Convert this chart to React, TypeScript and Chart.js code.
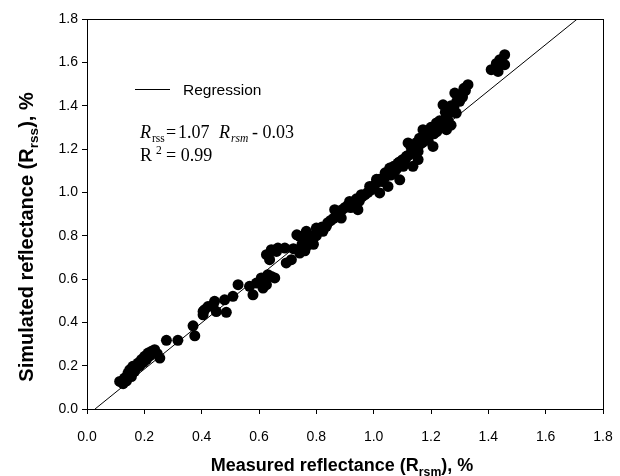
import React, { useEffect, useRef } from 'react';
import { Chart, registerables } from 'chart.js';
Chart.register(...registerables);

// Measured reflectance (Rrsm), %
const measured: number[] = [
  0.114, 0.126, 0.131, 0.138, 0.143, 0.149, 0.155, 0.16, 0.166, 0.172, 0.178, 0.184, 0.19, 0.196, 0.201, 0.207, 0.213, 0.219, 0.225, 0.236, 0.254, 0.245,
  0.277, 0.317, 0.37, 0.376, 0.405, 0.41, 0.405, 0.422, 0.44, 0.445, 0.451, 0.48, 0.486, 0.509, 0.527, 0.567, 0.579, 0.591, 0.608, 0.614, 0.626, 0.631, 0.643, 0.655,
  0.626, 0.631, 0.637, 0.643, 0.661, 0.666, 0.69, 0.695, 0.713, 0.732, 0.742, 0.742, 0.765, 0.765, 0.788, 0.8, 0.812, 0.823, 0.835,
  0.72, 0.75, 0.77, 0.78, 0.8, 0.82, 0.76, 0.79,
  0.864, 0.887, 0.85, 0.87, 0.9, 0.916, 0.93, 0.945, 0.957, 0.97, 0.98, 0.986, 1.0, 1.009, 1.021, 1.03, 1.04, 1.05, 1.056, 1.06, 1.068, 1.075, 1.085, 1.091,
  1.1, 1.103, 1.114, 1.12, 1.13, 1.137, 1.14, 1.155, 1.155, 1.16, 1.172, 1.18, 1.19, 1.2, 1.207, 1.215, 1.219, 1.23, 1.242, 1.25, 1.254, 1.26, 1.265, 1.27,
  1.283, 1.288, 1.29, 1.3, 1.31, 1.32, 1.329, 1.315,
  0.84, 0.86, 0.88, 0.89, 0.91, 0.92, 0.94, 0.95, 0.96, 0.99, 1.01, 1.02, 1.04, 1.06, 1.07, 1.08, 1.09, 1.1, 1.11, 1.12, 1.13, 1.14, 1.15, 1.16, 1.17, 1.18,
  1.19, 1.2, 1.21, 1.22, 1.23, 1.24, 1.25, 1.26, 1.27, 1.28, 1.3,
  1.41, 1.434, 1.44, 1.457, 1.457, 1.428,
];

// Simulated reflectance (Rrss), %
const simulated: number[] = [
  0.127, 0.117, 0.143, 0.13, 0.166, 0.181, 0.15, 0.197, 0.174, 0.19, 0.212, 0.2, 0.228, 0.215, 0.243, 0.228, 0.258, 0.245, 0.266, 0.274, 0.235, 0.255,
  0.317, 0.317, 0.384, 0.338, 0.435, 0.458, 0.45, 0.473, 0.481, 0.497, 0.45, 0.504, 0.446, 0.52, 0.574, 0.566, 0.527, 0.581, 0.605, 0.558, 0.574, 0.62, 0.612, 0.605,
  0.712, 0.712, 0.689, 0.735, 0.727, 0.743, 0.743, 0.674, 0.689, 0.804, 0.72, 0.797, 0.75, 0.82, 0.781, 0.835, 0.827, 0.82, 0.843,
  0.74, 0.76, 0.78, 0.8, 0.8, 0.84, 0.73, 0.76,
  0.92, 0.881, 0.87, 0.89, 0.93, 0.958, 0.95, 0.92, 0.989, 0.99, 1.0, 1.027, 1.03, 1.043, 0.997, 1.05, 1.07, 1.027, 1.112, 1.08, 1.089, 1.1, 1.135, 1.058,
  1.13, 1.12, 1.166, 1.228, 1.18, 1.12, 1.2, 1.189, 1.151, 1.22, 1.289, 1.25, 1.24, 1.27, 1.212, 1.29, 1.32, 1.3, 1.404, 1.34, 1.289, 1.36, 1.381, 1.31,
  1.458, 1.366, 1.42, 1.42, 1.44, 1.47, 1.497, 1.48,
  0.86, 0.88, 0.9, 0.92, 0.94, 0.93, 0.97, 0.96, 0.98, 1.01, 1.06, 1.06, 1.09, 1.1, 1.12, 1.11, 1.14, 1.15, 1.15, 1.17, 1.21, 1.18, 1.23, 1.25, 1.23, 1.28,
  1.26, 1.3, 1.27, 1.28, 1.33, 1.31, 1.37, 1.33, 1.4, 1.39, 1.45,
  1.566, 1.558, 1.612, 1.635, 1.589, 1.595,
];

const regSlope = 1.07;
const regIntercept = -0.03;
const rSquared = 0.99;
const axisMin = 0;
const axisMax = 1.8;
const tickStep = 0.2;
const legendLabel = 'Regression';

const SANS = '"Liberation Sans", Arial, sans-serif';
const SERIF = '"Liberation Serif", "Times New Roman", serif';

const textPlugin = {
  id: 'customText',
  afterDraw(chart: any) {
    const ctx = chart.ctx as CanvasRenderingContext2D;
    const a = chart.chartArea;
    ctx.save();
    // full frame
    ctx.strokeStyle = '#000';
    ctx.lineWidth = 1;
    ctx.strokeRect(Math.round(a.left) + 0.5, Math.round(a.top) + 0.5, Math.round(a.right - a.left), Math.round(a.bottom - a.top));

    // legend
    ctx.beginPath();
    ctx.moveTo(135, 89.5);
    ctx.lineTo(170, 89.5);
    ctx.stroke();
    ctx.fillStyle = '#000';
    ctx.textBaseline = 'alphabetic';
    ctx.textAlign = 'left';
    ctx.font = `15.5px ${SANS}`;
    ctx.fillText(legendLabel, 183, 95);

    // equation line 1
    const b1 = 138;
    ctx.font = `italic 18px ${SERIF}`;
    ctx.fillText('R', 140, b1);
    ctx.font = `11.5px ${SERIF}`;
    ctx.fillText('rss', 152, b1 + 4);
    ctx.font = `18px ${SERIF}`;
    ctx.fillText('=', 166, b1);
    ctx.fillText(regSlope.toFixed(2), 178, b1);
    ctx.font = `italic 18px ${SERIF}`;
    ctx.fillText('R', 219, b1);
    ctx.font = `italic 11.5px ${SERIF}`;
    ctx.fillText('rsm', 231, b1 + 4);
    ctx.font = `18px ${SERIF}`;
    ctx.fillText('- ' + Math.abs(regIntercept).toFixed(2), 252, b1);

    // equation line 2
    const b2 = 161;
    ctx.font = `18px ${SERIF}`;
    ctx.fillText('R', 140, b2);
    ctx.font = `11.5px ${SERIF}`;
    ctx.fillText('2', 156, b2 - 7);
    ctx.font = `18px ${SERIF}`;
    ctx.fillText('= ' + rSquared.toFixed(2), 166, b2);

    const measure = (size: number, main1: string, sub: string, main2: string) => {
      ctx.font = `bold ${size}px ${SANS}`;
      const w1 = ctx.measureText(main1).width;
      const w3 = ctx.measureText(main2).width;
      ctx.font = `bold ${size * 0.68}px ${SANS}`;
      const w2 = ctx.measureText(sub).width;
      return { w1, w2, w3, total: w1 + w2 + w3 };
    };
    const drawTitle = (size: number, main1: string, sub: string, main2: string, cx: number, y: number) => {
      const m = measure(size, main1, sub, main2);
      let x = cx - m.total / 2;
      ctx.font = `bold ${size}px ${SANS}`;
      ctx.fillText(main1, x, y);
      x += m.w1;
      ctx.font = `bold ${size * 0.68}px ${SANS}`;
      ctx.fillText(sub, x, y + size * 0.25);
      x += m.w2;
      ctx.font = `bold ${size}px ${SANS}`;
      ctx.fillText(main2, x, y);
    };
    // x axis title
    drawTitle(18, 'Measured reflectance (R', 'rsm', '), %', 342, 471);
    // y axis title
    ctx.save();
    ctx.translate(33, 237);
    ctx.rotate(-Math.PI / 2);
    drawTitle(20, 'Simulated reflectance (R', 'rss', '), %', 0, 0);
    ctx.restore();
    ctx.restore();
  },
};

export default function App() {
  const ref = useRef<HTMLCanvasElement>(null);
  useEffect(() => {
    document.body.style.margin = '0';
    const canvas = ref.current!;
    const points = measured.map((x, i) => ({ x, y: simulated[i] }));
    const regLine = [
      { x: (axisMin - regIntercept) / regSlope, y: axisMin },
      { x: (axisMax - regIntercept) / regSlope, y: axisMax },
    ];
    const tickFont = { family: SANS, size: 14 };
    const chart = new Chart(canvas, {
      type: 'scatter',
      data: {
        datasets: [
          {
            data: points,
            backgroundColor: '#000',
            borderColor: '#000',
            pointRadius: 5.5,
            borderWidth: 0,
            order: 0,
          } as any,
          {
            type: 'line',
            data: regLine,
            borderColor: '#000',
            borderWidth: 1,
            pointRadius: 0,
            fill: false,
            showLine: true,
            order: 1,
          } as any,
        ],
      },
      options: {
        responsive: false,
        animation: false,
        layout: { padding: { left: 0, right: 17, top: 19, bottom: 0 } },
        plugins: { legend: { display: false }, tooltip: { enabled: false } },
        scales: {
          x: {
            type: 'linear',
            min: axisMin,
            max: axisMax,
            ticks: {
              stepSize: tickStep,
              callback: (v: any) => Number(v).toFixed(1),
              color: '#000',
              font: tickFont,
              padding: 15,
              maxRotation: 0,
            },
            grid: { drawOnChartArea: false, drawTicks: true, tickLength: 5, color: '#000' },
            border: { display: true, color: '#000' },
            afterFit: (s: any) => {
              s.height = 67;
              s.paddingLeft = 0;
              s.paddingRight = 0;
            },
          },
          y: {
            type: 'linear',
            min: axisMin,
            max: axisMax,
            ticks: {
              stepSize: tickStep,
              callback: (v: any) => Number(v).toFixed(1),
              color: '#000',
              font: tickFont,
              padding: 4,
            },
            grid: { drawOnChartArea: false, drawTicks: true, tickLength: 5, color: '#000' },
            border: { display: true, color: '#000' },
            afterFit: (s: any) => {
              s.width = 87;
              s.paddingTop = 0;
              s.paddingBottom = 0;
            },
          },
        },
      } as any,
      plugins: [textPlugin],
    });
    return () => chart.destroy();
  }, []);
  return <canvas ref={ref} width={620} height={476} style={{ display: 'block' }} />;
}
